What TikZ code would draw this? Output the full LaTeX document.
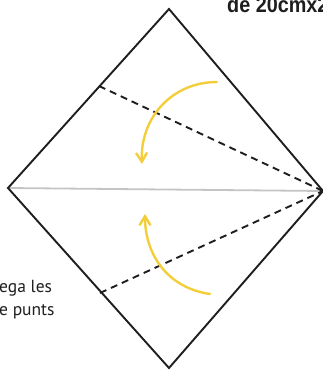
\documentclass[tikz,border=0pt]{standalone}
\usepackage{fontspec}
\setmainfont{PT Sans}
\newfontfamily\headfont{Liberation Sans}
\usetikzlibrary{arrows.meta}
\definecolor{inkc}{HTML}{1E1E1E}
\definecolor{foldgray}{HTML}{C4C4C4}
\definecolor{arrowyellow}{HTML}{F3CE3A}
\tikzset{
  edge/.style={draw=inkc, line width=1.9pt, line join=miter},
  foldline/.style={draw=inkc, line width=1.9pt, dash pattern=on 7pt off 5pt},
  midline/.style={draw=foldgray, line width=1.8pt},
  yarrow/.style={draw=arrowyellow, line width=2.4pt, line cap=round,
    -{Straight Barb[length=9pt,width=11pt,line width=2.4pt]}},
  lbl/.style={inner sep=0pt, font=\fontsize{17.5}{20}\selectfont, text=inkc}
}
\begin{document}
\begin{tikzpicture}[x=1pt,y=-1pt]
\useasboundingbox (0,0) rectangle (323,370);
\clip (0,0) rectangle (323,370);
\coordinate (T) at (169,9);
\coordinate (L) at (8,188);
\coordinate (R) at (323,191);
\coordinate (B) at (169,368);
\coordinate (U) at (99,86);
\coordinate (D) at (100,293);
\draw[midline] (L) -- (R);
\draw[foldline] (U) -- (R);
\draw[foldline] (D) -- (R);
\draw[edge] (T) -- (R) -- (B) -- (L) -- cycle;
\coordinate (a1) at (217,82);
\coordinate (a2) at (142,164);
\draw[yarrow] (a1) .. controls (172,82) and (140,118) .. (a2);
\coordinate (b1) at (210,294);
\coordinate (b2) at (145,214);
\draw[yarrow] (b1) .. controls (168,288) and (145,255) .. (b2);
\node[lbl, anchor=base west] (t1) at (-1,292) {ega les};
\node[lbl, anchor=base west] (t2) at (-1,315) {e punts};
\node[inner sep=0pt, anchor=base west, text=inkc, xscale=0.9, font=\headfont\bfseries\fontsize{22}{24}\selectfont] (hd) at (227,12) {de 20cmx20cm};
\end{tikzpicture}
\end{document}
